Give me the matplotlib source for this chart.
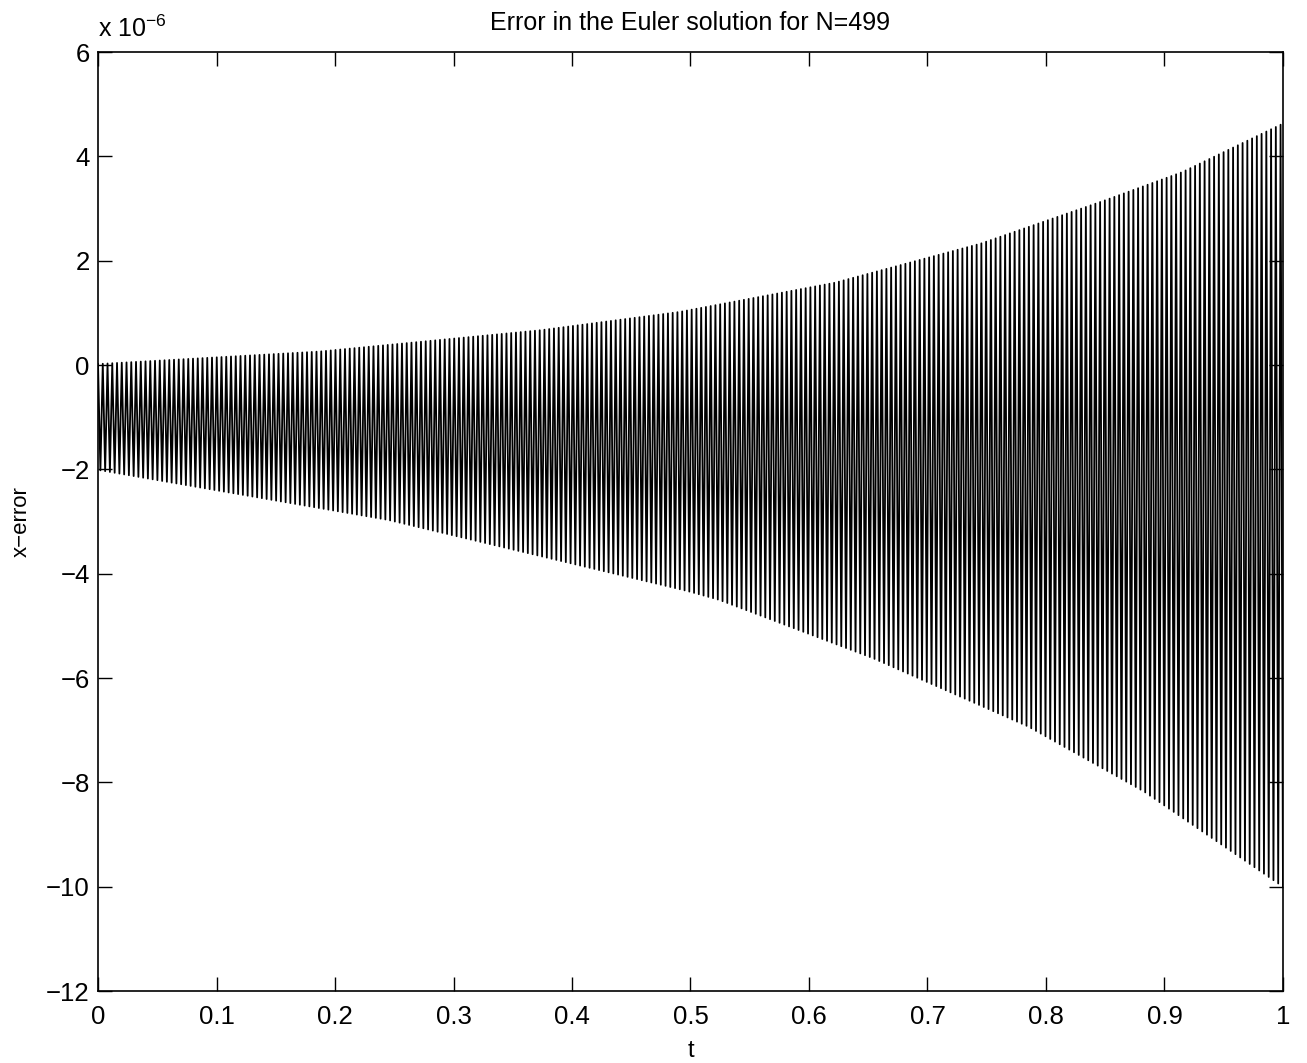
import numpy as np
import matplotlib
matplotlib.use("Agg")
import matplotlib.pyplot as plt

plt.rcParams['font.family'] = ['Liberation Sans', 'DejaVu Sans']

# envelope of the error (units of 1e-6)
t_upper = [0.0, 0.187, 0.374, 0.491, 0.622, 0.745, 0.85, 0.915, 1.0]
err_upper = [0.02, 0.26, 0.67, 1.02, 1.58, 2.33, 3.16, 3.70, 4.63]
t_lower = [0.0, 0.245, 0.497, 0.524, 0.654, 0.785, 0.883, 1.0]
err_lower = [-2.01, -2.97, -4.33, -4.50, -5.62, -6.93, -8.18, -10.0]

N = 499
xticks = [0, 0.1, 0.2, 0.3, 0.4, 0.5, 0.6, 0.7, 0.8, 0.9, 1]
yticks = [-12, -10, -8, -6, -4, -2, 0, 2, 4, 6]

# error jumps between the two envelopes at every step
t = np.linspace(0, 1, N + 1)
up = np.interp(t, t_upper, err_upper)
lo = np.interp(t, t_lower, err_lower)
err = np.where(np.arange(N + 1) % 2 == 0, up, lo)

fig = plt.figure(figsize=(13.07, 10.63), dpi=100)
ax = fig.add_axes([0.075, 0.0677, 0.9066, 0.8833])
ax.plot(t, err, color='black', linewidth=1.3)

ax.set_xlim(0, 1)
ax.set_ylim(-12, 6)
ax.set_xticks(xticks)
ax.set_xticklabels([('%g' % v) for v in xticks])
ax.set_yticks(yticks)
ax.set_yticklabels([('%d' % v).replace('-', '\u2212') for v in yticks])
ax.tick_params(direction='in', length=10, width=1, top=True, right=True,
               labelsize=18.5)
ax.tick_params(axis='x', pad=10)
ax.tick_params(axis='y', pad=6)
for s in ax.spines.values():
    s.set_linewidth(1.2)

ax.set_title('Error in the Euler solution for N=499', fontsize=18, pad=16)
ax.set_xlabel('t', fontsize=17, labelpad=8)
ax.set_ylabel('x\u2212error', fontsize=16, labelpad=10)
ax.text(0.0, 1.011, r'x 10$^{\mathregular{-6}}$', transform=ax.transAxes,
        fontsize=18, ha='left', va='bottom')

fig.savefig('out.png', dpi=100)
